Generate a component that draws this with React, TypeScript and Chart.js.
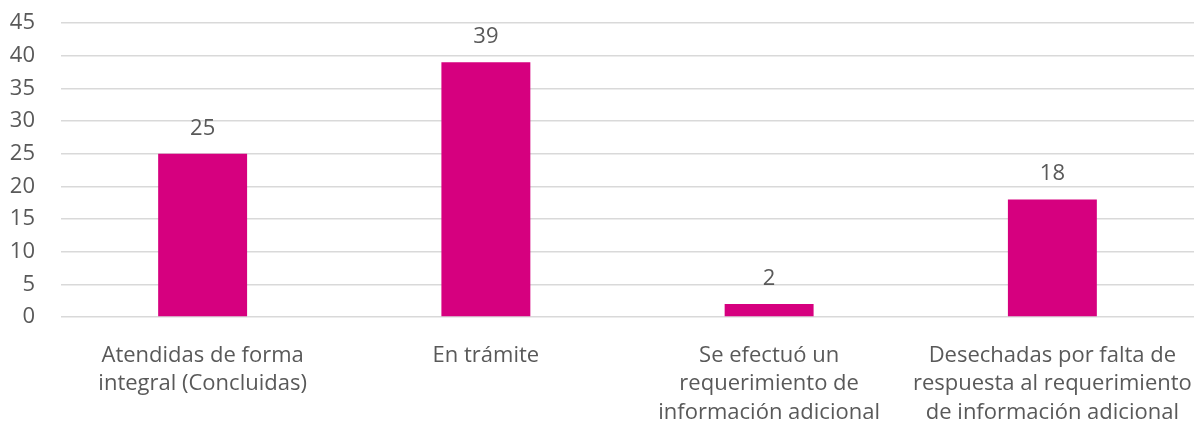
import React, { useEffect, useRef } from "react";
import { Chart, registerables } from "chart.js";

Chart.register(...registerables);

const categories: string[][] = [
  ["Atendidas de forma", "integral (Concluidas)"],
  ["En trámite"],
  ["Se efectuó un", "requerimiento de", "información adicional"],
  ["Desechadas por falta de", "respuesta al requerimiento", "de información adicional"],
];
const values: number[] = [25, 39, 2, 18];
const yTicks: number[] = [0, 5, 10, 15, 20, 25, 30, 35, 40, 45];

const BAR_COLOR = "#D6007F";
const TEXT_COLOR = "#595959";
const FONT_FAMILY = "'Open Sans', 'Noto Sans', sans-serif";

const valueLabels = {
  id: "valueLabels",
  afterDatasetsDraw(chart: any) {
    const ctx = chart.ctx;
    const meta = chart.getDatasetMeta(0);
    ctx.save();
    ctx.font = `22px ${FONT_FAMILY}`;
    ctx.fillStyle = TEXT_COLOR;
    ctx.textAlign = "center";
    ctx.textBaseline = "alphabetic";
    meta.data.forEach((bar: any, i: number) => {
      ctx.fillText(String(values[i]), bar.x, bar.y - 19);
    });
    ctx.restore();
  },
};

export default function App() {
  const ref = useRef<HTMLCanvasElement | null>(null);
  useEffect(() => {
    if (!ref.current) return;
    const chart = new Chart(ref.current, {
      type: "bar",
      data: {
        labels: categories,
        datasets: [
          {
            data: values,
            backgroundColor: BAR_COLOR,
            barPercentage: 0.314,
            categoryPercentage: 1,
          },
        ],
      },
      options: {
        animation: false,
        responsive: false,
        maintainAspectRatio: false,
        layout: { padding: { top: 23, left: 0, right: 0, bottom: 0 } },
        plugins: { legend: { display: false }, tooltip: { enabled: false } },
        scales: {
          x: {
            grid: { display: false },
            border: { display: false },
            ticks: {
              color: TEXT_COLOR,
              font: { family: FONT_FAMILY, size: 22, lineHeight: 1.3 },
              padding: 16,
              maxRotation: 0,
              autoSkip: false,
            },
            afterFit(scale: any) {
              scale.height = 109;
              scale.paddingRight = 0;
              scale.paddingLeft = 0;
            },
          },
          y: {
            min: 0,
            max: 45,
            afterBuildTicks(scale: any) {
              scale.ticks = yTicks.map((v) => ({ value: v }));
            },
            grid: { color: "#d9d9d9", lineWidth: 1.5, drawTicks: false },
            border: { display: false },
            ticks: {
              color: TEXT_COLOR,
              font: { family: FONT_FAMILY, size: 22 },
              padding: 26,
            },
            afterFit(scale: any) {
              scale.width = 61;
              scale.paddingTop = 0;
              scale.paddingBottom = 0;
            },
          },
        },
      },
      plugins: [valueLabels],
    });
    return () => chart.destroy();
  }, []);
  return (
    <div style={{ position: "fixed", left: 0, top: 0, width: 1194, height: 426, background: "#fff" }}>
      <canvas ref={ref} width={1194} height={426} style={{ display: "block" }} />
    </div>
  );
}
